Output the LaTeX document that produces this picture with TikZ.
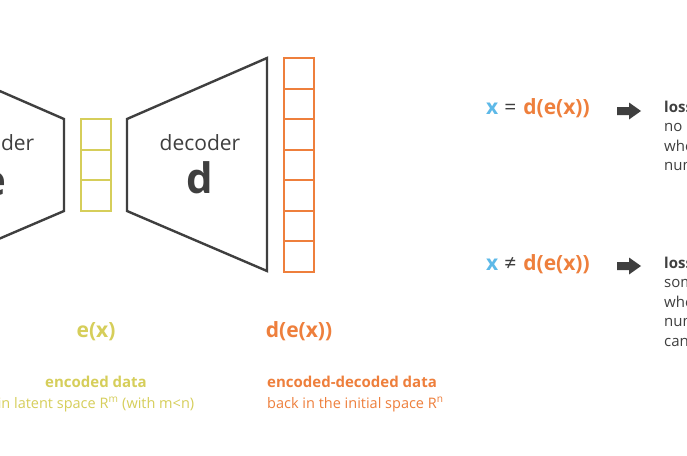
\documentclass[tikz,border=0pt]{standalone}
\usepackage{fontspec}
\setmainfont{Open Sans}
\definecolor{dgray}{HTML}{3F3F3F}
\definecolor{ylw}{HTML}{D6CE5A}
\definecolor{org}{HTML}{EE7F3C}
\definecolor{blu}{HTML}{5DB9E8}
\begin{document}
\begin{tikzpicture}[x=1pt,y=-1pt,
  trap/.style={draw=dgray,line width=2.4pt,line join=miter},
  cellY/.style={draw=ylw,line width=2pt},
  cellO/.style={draw=org,line width=2pt},
  lbl/.style={anchor=base,inner sep=0pt,font=\fontsize{21}{24}\selectfont,text=dgray},
  big/.style={anchor=base,inner sep=0pt,font=\fontsize{42}{48}\selectfont\bfseries,text=dgray},
  fx/.style={anchor=base,inner sep=0pt,font=\fontsize{21}{24}\selectfont\bfseries},
  captxt/.style={anchor=base,inner sep=0pt,font=\fontsize{14.5}{17}\selectfont},
  captxtb/.style={anchor=base,inner sep=0pt,font=\fontsize{15}{17}\selectfont\bfseries},
  rtext/.style={anchor=base west,inner sep=0pt,text=dgray,font=\fontsize{15}{19.5}\selectfont},
  barrow/.style={fill=dgray}]
\useasboundingbox (0,0) rectangle (687,455);
\clip (0,0) rectangle (687,455);
\fill[white] (0,0) rectangle (687,455);
% encoder (cut off on the left)
\draw[trap] (-76,58) -- (64,119) -- (64,211) -- (-76,271);
\node[lbl] (enc) at (-6,150) {encoder};
\node[big] (encsym) at (-6,195) {e};
% latent cells
\foreach \i in {0,1,2} {
  \draw[cellY] (81,{119+\i*30.7}) rectangle (111,{119+(\i+1)*30.7});
}
% decoder
\draw[trap] (127,119) -- (267,58) -- (267,271) -- (127,211) -- cycle;
\node[lbl] (dec) at (200,150) {decoder};
\node[big] (decsym) at (200,193) {d};
% output cells
\foreach \i in {0,...,6} {
  \draw[cellO] (284,{58+\i*30.5}) rectangle (314,{58+(\i+1)*30.5});
}
% labels under
\node[fx,text=ylw] (ex) at (96,337) {e(x)};
\node[fx,text=org] (dex) at (299,337) {d(e(x))};
\node[captxtb,text=ylw] (encd) at (96,387) {encoded data};
\node[captxt,text=ylw] (encd2) at (96,408) {in latent space R\textsuperscript{m} (with m<n)};
\node[captxtb,text=org,anchor=base west] (ed) at (267,387) {encoded-decoded data};
\node[captxt,text=org,anchor=base west] (ed2) at (267,408) {back in the initial space R\textsuperscript{n}};
% right side equations
\node[fx,anchor=base west] (eq1) at (486,114) {\textcolor{blu}{x}\hspace{6pt}\textcolor{dgray}{\mdseries=}\hspace{7pt}\textcolor{org}{d(e(x))}};
\node[fx,anchor=base west] (eq2) at (486,270) {\textcolor{blu}{x}\hspace{6pt}\textcolor{dgray}{\mdseries≠}\hspace{7pt}\textcolor{org}{d(e(x))}};
% block arrows
\fill[barrow] (617,107) -- (629,107) -- (629,102.5) -- (641,111) -- (629,119.5) -- (629,115) -- (617,115) -- cycle;
\fill[barrow] (617,262) -- (629,262) -- (629,257.5) -- (641,266) -- (629,274.5) -- (629,270) -- (617,270) -- cycle;
% right texts
\node[rtext] (t1) at (664,112) {\begin{tabular}[t]{@{}l@{}}\textbf{lossless encoding}\\no information is lost\\when reducing the\\number of dimensions\end{tabular}};
\node[rtext] (t2) at (664,268) {\begin{tabular}[t]{@{}l@{}}\textbf{lossy encoding}\\some information is lost\\when reducing the\\number of dimensions and\\can't be recovered later\end{tabular}};
\end{tikzpicture}
\end{document}
